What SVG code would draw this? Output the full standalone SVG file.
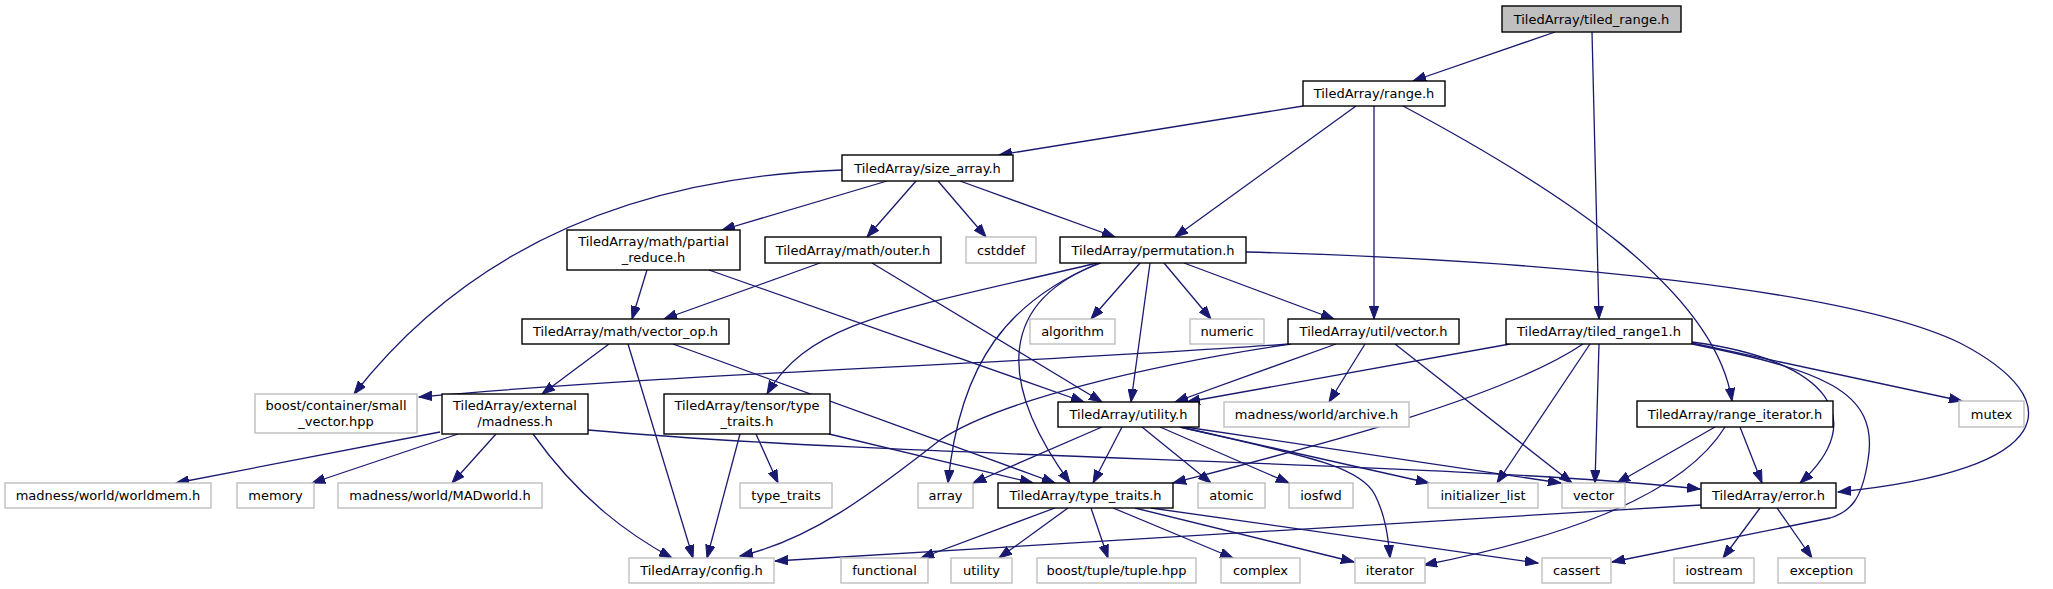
<svg xmlns="http://www.w3.org/2000/svg" width="2053" height="589" viewBox="0 0 2053 589">
<style>
.d{fill:#fff;stroke:#000;stroke-width:1.4}
.x{fill:#fff;stroke:#bfbfbf;stroke-width:1.4}
.r{fill:#bfbfbf;stroke:#000;stroke-width:1.4}
text{font-family:"DejaVu Sans","Liberation Sans",sans-serif;font-size:13px;text-anchor:middle;fill:#000}
#edges path{fill:none;stroke:#191970;stroke-width:1.3;marker-end:url(#a)}
</style>
<defs>
<marker id="a" markerWidth="14" markerHeight="10" refX="13" refY="5" orient="auto" markerUnits="userSpaceOnUse"><path d="M0,0.3 L13,5 L0,9.7 z" fill="#191970" stroke="#191970" stroke-width="1"/></marker>
</defs>
<rect width="2053" height="589" fill="#fff"/>
<g id="edges">
<path d="M1555,32 L1413,81"/>
<path d="M1592,32 L1599,319"/>
<path d="M1303,106 L999,155"/>
<path d="M1356,106 L1175,237"/>
<path d="M1374,106 L1374,319"/>
<path d="M1403,106 C1560,190 1715,290 1732,401"/>
<path d="M842,170 C610,178 455,265 354,394"/>
<path d="M887,181 L722,230"/>
<path d="M916,181 L867,237"/>
<path d="M938,181 L986,237"/>
<path d="M960,181 L1115,237"/>
<path d="M647,270 L632,319"/>
<path d="M709,270 L1084,402"/>
<path d="M820,263 L664,319"/>
<path d="M872,263 L1102,402"/>
<path d="M609,344 L542,394"/>
<path d="M628,344 L693,558"/>
<path d="M673,344 L1055,483"/>
<path d="M440,432 L176,483"/>
<path d="M458,434 L312,483"/>
<path d="M496,434 L452,483"/>
<path d="M533,434 C580,500 630,535 672,558"/>
<path d="M588,430 C900,458 1450,462 1700,489"/>
<path d="M756,434 L778,483"/>
<path d="M740,434 L707,558"/>
<path d="M829,434 L1033,483"/>
<path d="M1099,263 C1010,300 960,360 948,483"/>
<path d="M1097,263 C900,310 810,320 767,394"/>
<path d="M1101,263 C1000,300 995,380 1070,483"/>
<path d="M1140,263 L1091,319"/>
<path d="M1150,263 L1131,402"/>
<path d="M1164,263 L1211,319"/>
<path d="M1184,263 L1334,319"/>
<path d="M1246,252 C1550,260 1850,290 1960,343 C2070,400 2060,470 1838,492"/>
<path d="M1289,344 C1000,365 700,372 419,397"/>
<path d="M1291,344 C1150,365 1000,400 940,440 C870,495 810,540 740,556"/>
<path d="M1336,344 L1175,402"/>
<path d="M1365,344 L1329,402"/>
<path d="M1395,344 L1572,483"/>
<path d="M1510,344 L1187,402"/>
<path d="M1583,344 C1500,400 1300,450 1173,483"/>
<path d="M1590,344 L1497,483"/>
<path d="M1599,344 L1595,483"/>
<path d="M1692,342 C1830,360 1870,420 1800,483"/>
<path d="M1692,344 C1820,370 1880,390 1868,460 C1862,500 1850,512 1830,518 L1612,562"/>
<path d="M1692,343 L1962,401"/>
<path d="M1715,427 L1617,483"/>
<path d="M1725,427 C1680,500 1550,540 1424,565"/>
<path d="M1740,427 L1762,483"/>
<path d="M1701,505 L775,561"/>
<path d="M1760,508 L1723,558"/>
<path d="M1777,508 L1812,558"/>
<path d="M1102,427 L973,483"/>
<path d="M1122,427 L1093,483"/>
<path d="M1142,427 L1211,483"/>
<path d="M1160,427 L1289,483"/>
<path d="M1180,427 L1429,483"/>
<path d="M1185,427 L1561,483"/>
<path d="M1180,427 C1300,455 1360,465 1375,495 C1385,515 1388,535 1390,558"/>
<path d="M1055,508 L921,558"/>
<path d="M1068,508 L999,558"/>
<path d="M1091,508 L1108,558"/>
<path d="M1113,508 L1233,558"/>
<path d="M1135,508 L1354,562"/>
<path d="M1151,508 L1538,563"/>
</g>
<g id="n_tiled_range"><rect class="r" x="1502" y="6" width="179" height="26"/><text x="1591.5" y="23.5">TiledArray/tiled_range.h</text></g>
<g id="n_range"><rect class="d" x="1303" y="81" width="142" height="25"/><text x="1374" y="98">TiledArray/range.h</text></g>
<g id="n_size_array"><rect class="d" x="842" y="155" width="171" height="26"/><text x="927.5" y="172.5">TiledArray/size_array.h</text></g>
<g id="n_partial_reduce"><rect class="d" x="567" y="230" width="173" height="40"/><text x="653.5" y="246">TiledArray/math/partial</text><text x="653.5" y="262">_reduce.h</text></g>
<g id="n_outer"><rect class="d" x="765" y="237" width="176" height="26"/><text x="853" y="254.5">TiledArray/math/outer.h</text></g>
<g id="n_cstddef"><rect class="x" x="966" y="237" width="70" height="26"/><text x="1001" y="254.5">cstddef</text></g>
<g id="n_permutation"><rect class="d" x="1060" y="237" width="186" height="26"/><text x="1153" y="254.5">TiledArray/permutation.h</text></g>
<g id="n_vector_op"><rect class="d" x="522" y="319" width="207" height="25"/><text x="625.5" y="336">TiledArray/math/vector_op.h</text></g>
<g id="n_algorithm"><rect class="x" x="1030" y="319" width="85" height="25"/><text x="1072.5" y="336">algorithm</text></g>
<g id="n_numeric"><rect class="x" x="1190" y="319" width="74" height="25"/><text x="1227" y="336">numeric</text></g>
<g id="n_util_vector"><rect class="d" x="1288" y="319" width="171" height="25"/><text x="1373.5" y="336">TiledArray/util/vector.h</text></g>
<g id="n_tiled_range1"><rect class="d" x="1506" y="319" width="186" height="25"/><text x="1599" y="336">TiledArray/tiled_range1.h</text></g>
<g id="n_small_vector"><rect class="x" x="255" y="394" width="162" height="39"/><text x="336" y="410">boost/container/small</text><text x="336" y="426">_vector.hpp</text></g>
<g id="n_madness"><rect class="d" x="442" y="394" width="146" height="40"/><text x="515" y="410">TiledArray/external</text><text x="515" y="426">/madness.h</text></g>
<g id="n_tensor_type_traits"><rect class="d" x="664" y="394" width="166" height="40"/><text x="747" y="410">TiledArray/tensor/type</text><text x="747" y="426">_traits.h</text></g>
<g id="n_utility_h"><rect class="d" x="1058" y="402" width="141" height="25"/><text x="1128.5" y="419">TiledArray/utility.h</text></g>
<g id="n_archive"><rect class="x" x="1224" y="402" width="185" height="25"/><text x="1316.5" y="419">madness/world/archive.h</text></g>
<g id="n_range_iterator"><rect class="d" x="1637" y="401" width="196" height="26"/><text x="1735" y="418.5">TiledArray/range_iterator.h</text></g>
<g id="n_mutex"><rect class="x" x="1959" y="401" width="65" height="26"/><text x="1991.5" y="418.5">mutex</text></g>
<g id="n_worldmem"><rect class="x" x="5" y="483" width="206" height="25"/><text x="108" y="500">madness/world/worldmem.h</text></g>
<g id="n_memory"><rect class="x" x="237" y="483" width="77" height="25"/><text x="275.5" y="500">memory</text></g>
<g id="n_madworld"><rect class="x" x="338" y="483" width="204" height="25"/><text x="440" y="500">madness/world/MADworld.h</text></g>
<g id="n_std_type_traits"><rect class="x" x="740" y="483" width="92" height="25"/><text x="786" y="500">type_traits</text></g>
<g id="n_array"><rect class="x" x="918" y="483" width="55" height="25"/><text x="945.5" y="500">array</text></g>
<g id="n_type_traits_h"><rect class="d" x="998" y="483" width="175" height="25"/><text x="1085.5" y="500">TiledArray/type_traits.h</text></g>
<g id="n_atomic"><rect class="x" x="1198" y="483" width="67" height="25"/><text x="1231.5" y="500">atomic</text></g>
<g id="n_iosfwd"><rect class="x" x="1289" y="483" width="64" height="25"/><text x="1321" y="500">iosfwd</text></g>
<g id="n_initializer_list"><rect class="x" x="1428" y="483" width="110" height="25"/><text x="1483" y="500">initializer_list</text></g>
<g id="n_vector"><rect class="x" x="1562" y="483" width="63" height="25"/><text x="1593.5" y="500">vector</text></g>
<g id="n_error"><rect class="d" x="1701" y="483" width="135" height="25"/><text x="1768.5" y="500">TiledArray/error.h</text></g>
<g id="n_config"><rect class="x" x="629" y="558" width="145" height="25"/><text x="701.5" y="575">TiledArray/config.h</text></g>
<g id="n_functional"><rect class="x" x="841" y="558" width="87" height="25"/><text x="884.5" y="575">functional</text></g>
<g id="n_utility"><rect class="x" x="951" y="558" width="61" height="25"/><text x="981.5" y="575">utility</text></g>
<g id="n_tuple"><rect class="x" x="1037" y="558" width="159" height="25"/><text x="1116.5" y="575">boost/tuple/tuple.hpp</text></g>
<g id="n_complex"><rect class="x" x="1221" y="558" width="79" height="25"/><text x="1260.5" y="575">complex</text></g>
<g id="n_iterator"><rect class="x" x="1355" y="558" width="70" height="25"/><text x="1390" y="575">iterator</text></g>
<g id="n_cassert"><rect class="x" x="1542" y="558" width="69" height="25"/><text x="1576.5" y="575">cassert</text></g>
<g id="n_iostream"><rect class="x" x="1674" y="558" width="80" height="25"/><text x="1714" y="575">iostream</text></g>
<g id="n_exception"><rect class="x" x="1778" y="558" width="87" height="25"/><text x="1821.5" y="575">exception</text></g>
</svg>
